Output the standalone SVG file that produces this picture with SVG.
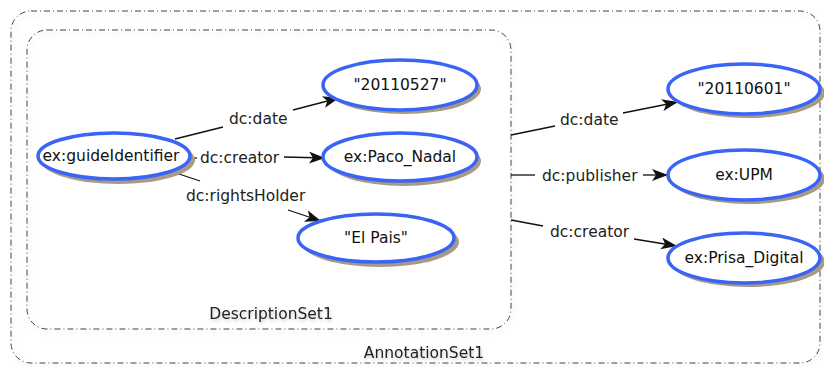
<svg xmlns="http://www.w3.org/2000/svg" width="824" height="367" viewBox="0 0 824 367">
<defs>
<style>
.box{fill:none;stroke:#444;stroke-width:1;stroke-dasharray:6,3,1,3;filter:url(#bsh)}
.lbl{font-family:"DejaVu Sans",sans-serif;font-size:15.5px;fill:#222}
.boxlbl{font-family:"DejaVu Sans",sans-serif;font-size:15.5px;fill:#222;text-anchor:middle;filter:url(#tsh)}
.nt{font-family:"DejaVu Sans",sans-serif;font-size:15.5px;fill:#111;text-anchor:middle}
.sh{fill:#a89a85}
.el{fill:#fff;stroke:#3a64f5;stroke-width:3.5}
.ed{fill:none;stroke:#111;stroke-width:1.3}
</style>
<filter id="bsh" x="-5%" y="-5%" width="110%" height="110%">
<feDropShadow dx="2" dy="3" stdDeviation="2" flood-color="#000" flood-opacity="0.15"/>
</filter>
<filter id="tsh" x="-10%" y="-30%" width="120%" height="160%">
<feDropShadow dx="1" dy="2" stdDeviation="1.5" flood-color="#000" flood-opacity="0.2"/>
</filter>
<marker id="arr" markerUnits="userSpaceOnUse" markerWidth="18" markerHeight="14" refX="16" refY="6" orient="auto">
<path d="M0,0 L16,6 L0,12 L4,6 z" fill="#111"/>
</marker>
</defs>

<g id="AnnotationSet1">
<rect class="box" x="11" y="11" width="809" height="352" rx="20" ry="20"/>
<text class="boxlbl" x="424" y="358">AnnotationSet1</text>
</g>
<g id="DescriptionSet1">
<rect class="box" x="27" y="30" width="484" height="299" rx="20" ry="20"/>
<text class="boxlbl" x="271" y="319">DescriptionSet1</text>
</g>

<g id="connectors">
<line class="ed" x1="175" y1="139" x2="223" y2="127"/>
<text class="lbl" x="229" y="124">dc:date</text>
<line class="ed" x1="293" y1="110" x2="339" y2="98" marker-end="url(#arr)"/>

<line class="ed" x1="193" y1="158" x2="197" y2="158"/>
<text class="lbl" x="200" y="163">dc:creator</text>
<line class="ed" x1="284" y1="157" x2="325" y2="158" marker-end="url(#arr)"/>

<line class="ed" x1="170" y1="171" x2="200" y2="181"/>
<text class="lbl" x="186" y="201">dc:rightsHolder</text>
<line class="ed" x1="288" y1="210" x2="321" y2="221" marker-end="url(#arr)"/>

<line class="ed" x1="511" y1="135" x2="555" y2="126"/>
<text class="lbl" x="560" y="125">dc:date</text>
<line class="ed" x1="623" y1="113" x2="678" y2="102" marker-end="url(#arr)"/>

<line class="ed" x1="511" y1="175" x2="535" y2="175"/>
<text class="lbl" x="542" y="181">dc:publisher</text>
<line class="ed" x1="643" y1="175" x2="668" y2="175" marker-end="url(#arr)"/>

<line class="ed" x1="511" y1="220" x2="543" y2="226"/>
<text class="lbl" x="550" y="237">dc:creator</text>
<line class="ed" x1="634" y1="239" x2="677" y2="246" marker-end="url(#arr)"/>
</g>

<g id="guideIdentifier">
<ellipse class="sh" cx="118" cy="160" rx="77" ry="24"/>
<ellipse class="el" cx="114" cy="156" rx="76" ry="23"/>
<text class="nt" x="111" y="161">ex:guideIdentifier</text>
</g>
<g id="d20110527">
<ellipse class="sh" cx="404" cy="89" rx="77" ry="25"/>
<ellipse class="el" cx="400" cy="85" rx="77" ry="25"/>
<text class="nt" x="400" y="90">"20110527"</text>
</g>
<g id="Paco_Nadal">
<ellipse class="sh" cx="404" cy="161" rx="77" ry="25"/>
<ellipse class="el" cx="400" cy="157" rx="77" ry="24"/>
<text class="nt" x="400" y="162">ex:Paco_Nadal</text>
</g>
<g id="ElPais">
<ellipse class="sh" cx="380" cy="242" rx="79" ry="25"/>
<ellipse class="el" cx="376" cy="238" rx="78" ry="24"/>
<text class="nt" x="376" y="243">"El Pais"</text>
</g>
<g id="d20110601">
<ellipse class="sh" cx="748" cy="93" rx="77" ry="25"/>
<ellipse class="el" cx="744" cy="89" rx="76" ry="25"/>
<text class="nt" x="744" y="94">"20110601"</text>
</g>
<g id="UPM">
<ellipse class="sh" cx="748" cy="179" rx="77" ry="25"/>
<ellipse class="el" cx="744" cy="175" rx="76" ry="25"/>
<text class="nt" x="744" y="180">ex:UPM</text>
</g>
<g id="Prisa_Digital">
<ellipse class="sh" cx="748" cy="262" rx="77" ry="25"/>
<ellipse class="el" cx="744" cy="258" rx="76" ry="25"/>
<text class="nt" x="744" y="263">ex:Prisa_Digital</text>
</g>
</svg>
